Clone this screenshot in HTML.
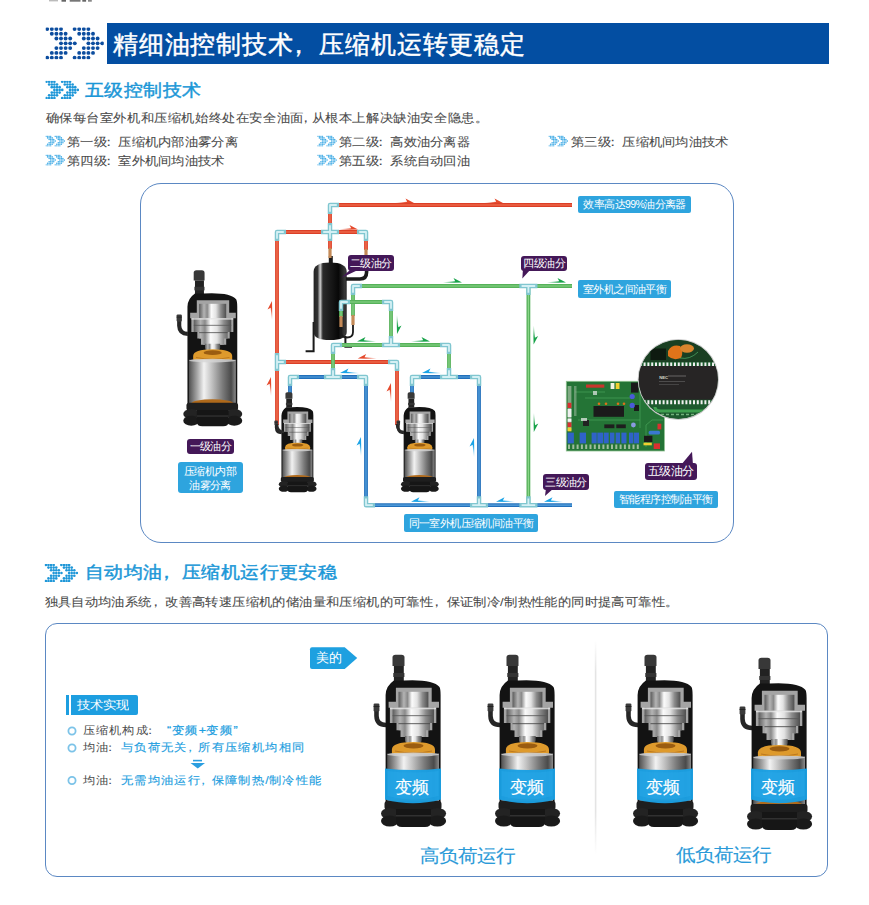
<!DOCTYPE html>
<html><head><meta charset="utf-8">
<style>
html,body{margin:0;padding:0;background:#fff;}
body{width:869px;height:905px;position:relative;overflow:hidden;font-family:"Liberation Sans",sans-serif;}
.a{position:absolute;white-space:nowrap;}
.t{color:#4a4a4a;font-size:13px;line-height:13px;-webkit-text-stroke:.08px #4a4a4a;letter-spacing:.3px;}
.hd{color:#1b97d7;font-size:19px;line-height:19px;transform:scaleY(.84);-webkit-text-stroke:.5px #1b97d7;}
.sy{transform:scaleY(.9);transform-origin:0 0;}
.lbl{position:absolute;background:#2ea4de;color:#fff;border-radius:2px;font-size:10.5px;line-height:18px;text-align:center;white-space:nowrap;letter-spacing:-0.6px;}
.pl{position:absolute;background:#441858;color:#fff;border-radius:3px;font-size:10.5px;line-height:16px;text-align:center;white-space:nowrap;letter-spacing:-0.6px;}
svg{position:absolute;left:0;top:0;overflow:visible;}
</style></head>
<body>
<!-- defs -->
<svg width="0" height="0" style="position:absolute">
<defs>
<symbol id="arr" viewBox="0 0 58.2 31.9"><circle cx="1.6" cy="1.60" r="1.95"/><circle cx="6.2" cy="1.60" r="1.95"/><circle cx="10.8" cy="1.60" r="1.95"/><circle cx="15.4" cy="1.60" r="1.95"/><circle cx="6.2" cy="6.38" r="1.95"/><circle cx="10.8" cy="6.38" r="1.95"/><circle cx="15.4" cy="6.38" r="1.95"/><circle cx="20.0" cy="6.38" r="1.95"/><circle cx="10.8" cy="11.16" r="1.95"/><circle cx="15.4" cy="11.16" r="1.95"/><circle cx="20.0" cy="11.16" r="1.95"/><circle cx="24.6" cy="11.16" r="1.95"/><circle cx="15.4" cy="15.94" r="1.95"/><circle cx="20.0" cy="15.94" r="1.95"/><circle cx="24.6" cy="15.94" r="1.95"/><circle cx="29.2" cy="15.94" r="1.95"/><circle cx="10.8" cy="20.72" r="1.95"/><circle cx="15.4" cy="20.72" r="1.95"/><circle cx="20.0" cy="20.72" r="1.95"/><circle cx="24.6" cy="20.72" r="1.95"/><circle cx="6.2" cy="25.50" r="1.95"/><circle cx="10.8" cy="25.50" r="1.95"/><circle cx="15.4" cy="25.50" r="1.95"/><circle cx="20.0" cy="25.50" r="1.95"/><circle cx="1.6" cy="30.28" r="1.95"/><circle cx="6.2" cy="30.28" r="1.95"/><circle cx="10.8" cy="30.28" r="1.95"/><circle cx="15.4" cy="30.28" r="1.95"/><circle cx="29.0" cy="1.60" r="1.95"/><circle cx="33.6" cy="1.60" r="1.95"/><circle cx="38.2" cy="1.60" r="1.95"/><circle cx="42.8" cy="1.60" r="1.95"/><circle cx="33.6" cy="6.38" r="1.95"/><circle cx="38.2" cy="6.38" r="1.95"/><circle cx="42.8" cy="6.38" r="1.95"/><circle cx="47.4" cy="6.38" r="1.95"/><circle cx="38.2" cy="11.16" r="1.95"/><circle cx="42.8" cy="11.16" r="1.95"/><circle cx="47.4" cy="11.16" r="1.95"/><circle cx="52.0" cy="11.16" r="1.95"/><circle cx="42.8" cy="15.94" r="1.95"/><circle cx="47.4" cy="15.94" r="1.95"/><circle cx="52.0" cy="15.94" r="1.95"/><circle cx="56.6" cy="15.94" r="1.95"/><circle cx="38.2" cy="20.72" r="1.95"/><circle cx="42.8" cy="20.72" r="1.95"/><circle cx="47.4" cy="20.72" r="1.95"/><circle cx="52.0" cy="20.72" r="1.95"/><circle cx="33.6" cy="25.50" r="1.95"/><circle cx="38.2" cy="25.50" r="1.95"/><circle cx="42.8" cy="25.50" r="1.95"/><circle cx="47.4" cy="25.50" r="1.95"/><circle cx="29.0" cy="30.28" r="1.95"/><circle cx="33.6" cy="30.28" r="1.95"/><circle cx="38.2" cy="30.28" r="1.95"/><circle cx="42.8" cy="30.28" r="1.95"/></symbol>
<symbol id="arrs" viewBox="0 0 58.2 31.9"><circle cx="1.6" cy="1.60" r="2.3"/><circle cx="6.2" cy="1.60" r="2.3"/><circle cx="10.8" cy="1.60" r="2.3"/><circle cx="15.4" cy="1.60" r="2.3"/><circle cx="6.2" cy="6.38" r="2.3"/><circle cx="10.8" cy="6.38" r="2.3"/><circle cx="15.4" cy="6.38" r="2.3"/><circle cx="20.0" cy="6.38" r="2.3"/><circle cx="10.8" cy="11.16" r="2.3"/><circle cx="15.4" cy="11.16" r="2.3"/><circle cx="20.0" cy="11.16" r="2.3"/><circle cx="24.6" cy="11.16" r="2.3"/><circle cx="15.4" cy="15.94" r="2.3"/><circle cx="20.0" cy="15.94" r="2.3"/><circle cx="24.6" cy="15.94" r="2.3"/><circle cx="29.2" cy="15.94" r="2.3"/><circle cx="10.8" cy="20.72" r="2.3"/><circle cx="15.4" cy="20.72" r="2.3"/><circle cx="20.0" cy="20.72" r="2.3"/><circle cx="24.6" cy="20.72" r="2.3"/><circle cx="6.2" cy="25.50" r="2.3"/><circle cx="10.8" cy="25.50" r="2.3"/><circle cx="15.4" cy="25.50" r="2.3"/><circle cx="20.0" cy="25.50" r="2.3"/><circle cx="1.6" cy="30.28" r="2.3"/><circle cx="6.2" cy="30.28" r="2.3"/><circle cx="10.8" cy="30.28" r="2.3"/><circle cx="15.4" cy="30.28" r="2.3"/><circle cx="29.0" cy="1.60" r="2.3"/><circle cx="33.6" cy="1.60" r="2.3"/><circle cx="38.2" cy="1.60" r="2.3"/><circle cx="42.8" cy="1.60" r="2.3"/><circle cx="33.6" cy="6.38" r="2.3"/><circle cx="38.2" cy="6.38" r="2.3"/><circle cx="42.8" cy="6.38" r="2.3"/><circle cx="47.4" cy="6.38" r="2.3"/><circle cx="38.2" cy="11.16" r="2.3"/><circle cx="42.8" cy="11.16" r="2.3"/><circle cx="47.4" cy="11.16" r="2.3"/><circle cx="52.0" cy="11.16" r="2.3"/><circle cx="42.8" cy="15.94" r="2.3"/><circle cx="47.4" cy="15.94" r="2.3"/><circle cx="52.0" cy="15.94" r="2.3"/><circle cx="56.6" cy="15.94" r="2.3"/><circle cx="38.2" cy="20.72" r="2.3"/><circle cx="42.8" cy="20.72" r="2.3"/><circle cx="47.4" cy="20.72" r="2.3"/><circle cx="52.0" cy="20.72" r="2.3"/><circle cx="33.6" cy="25.50" r="2.3"/><circle cx="38.2" cy="25.50" r="2.3"/><circle cx="42.8" cy="25.50" r="2.3"/><circle cx="47.4" cy="25.50" r="2.3"/><circle cx="29.0" cy="30.28" r="2.3"/><circle cx="33.6" cy="30.28" r="2.3"/><circle cx="38.2" cy="30.28" r="2.3"/><circle cx="42.8" cy="30.28" r="2.3"/></symbol>

<linearGradient id="gr" x1="0" x2="1" y1="0" y2="0"><stop offset="0" stop-color="#e5492c" stop-opacity="0"/><stop offset=".6" stop-color="#e5492c"/></linearGradient>
<linearGradient id="gg" x1="0" x2="1" y1="0" y2="0"><stop offset="0" stop-color="#19a34a" stop-opacity="0"/><stop offset=".6" stop-color="#19a34a"/></linearGradient>
<linearGradient id="gb" x1="0" x2="1" y1="0" y2="0"><stop offset="0" stop-color="#1aa3e6" stop-opacity="0"/><stop offset=".6" stop-color="#1aa3e6"/></linearGradient>
<linearGradient id="silv" x1="0" x2="1" y1="0" y2="0"><stop offset="0" stop-color="#5c5c5c"/><stop offset=".18" stop-color="#b4b4b4"/><stop offset=".3" stop-color="#8a8a8a"/><stop offset=".45" stop-color="#fbfbfb"/><stop offset=".62" stop-color="#e2e2e2"/><stop offset=".8" stop-color="#8c8c8c"/><stop offset="1" stop-color="#4e4e4e"/></linearGradient>
<linearGradient id="tankg" x1="0" x2="1" y1="0" y2="0"><stop offset="0" stop-color="#222"/><stop offset=".12" stop-color="#333"/><stop offset=".2" stop-color="#cfcfcf"/><stop offset=".28" stop-color="#2a2a2a"/><stop offset=".75" stop-color="#080808"/><stop offset=".95" stop-color="#3a3a3a"/><stop offset="1" stop-color="#222"/></linearGradient>
<linearGradient id="silv2" x1="0" x2="1" y1="0" y2="0"><stop offset="0" stop-color="#505050"/><stop offset=".18" stop-color="#a8a8a8"/><stop offset=".32" stop-color="#f2f2f2"/><stop offset=".48" stop-color="#c4c4c4"/><stop offset=".72" stop-color="#7a7a7a"/><stop offset=".9" stop-color="#4a4a4a"/><stop offset="1" stop-color="#8a8a8a"/></linearGradient>
<symbol id="band" viewBox="0 0 90 190"><path d="M20 123.5 Q48 126.5 76 123.5 V154.5 Q48 162 20 154.5Z" fill="#1a9fe2" opacity=".97"/><path d="M22.5 126 Q48 129 73.5 126 V151 Q48 158 22.5 151Z" fill="#2aa8e8" opacity=".45"/></symbol>
<symbol id="comp" viewBox="0 0 90 190">
<path d="M21 80 Q11.8 80 11.5 71 V63" stroke="#262626" stroke-width="4.6" fill="none"/>
<rect x="8.6" y="58.5" width="5.8" height="8" rx="1.2" fill="#3a3a3a"/><rect x="8.6" y="61" width="5.8" height="1" fill="#222"/>
<path d="M27.5 12.5 Q27.5 9.7 30.5 9.7 H36.5 Q39.5 9.7 39.5 12.5 V21 H27.5Z" fill="#383838"/>
<rect x="28.9" y="21" width="9.9" height="15" fill="#222"/>
<rect x="28.3" y="28" width="11.1" height="4" fill="#333"/>
<path d="M20.6 50 Q20.8 41 28.9 35.5 H38.8 Q68 34 74.5 42 Q75.6 44 75.6 50 V160 H20.6Z" fill="#131313"/>
<path d="M30.9 42.8 H66.7 V56.7 H74 V62.7 H71.3 V78 H67.3 V85.2 H63.4 V92 H35.5 V85.2 H31.5 V78 H24.9 V62.7 H23.6 V56.7 H30.9Z" fill="#a4a4a4"/>
<rect x="33.5" y="46.8" width="29.9" height="16" fill="url(#silv)"/>
<path d="M27.5 62.7 H69 V78 H65 V85.2 H61 V92 H37.5 V85.2 H33.5 V78 H27.5Z" fill="url(#silv)"/>
<rect x="25" y="62.7" width="46" height="1.6" fill="#e8e8e8" opacity=".8"/>
<rect x="27.5" y="70" width="41.5" height="1.2" fill="#555" opacity=".7"/>
<rect x="33.5" y="78" width="31.5" height="1.2" fill="#444" opacity=".7"/>
<path d="M40 91 H56.7 V95 Q56.7 100.5 48.3 100.5 Q40 100.5 40 95Z" fill="url(#silv)"/>
<path d="M26.9 104.5 Q26.9 97 48.5 97 Q70 97 70 104.5 V108 Q70 112 48.5 112 Q26.9 112 26.9 108Z" fill="#de9a2c"/>
<path d="M30 106 Q48.5 110 67 106" stroke="#a86414" stroke-width=".8" fill="none" opacity=".8"/>
<ellipse cx="48.5" cy="100.8" rx="10" ry="2.6" fill="#9a5c10"/>
<rect x="22.2" y="108.5" width="51.8" height="48" fill="url(#silv2)"/>
<ellipse cx="48.1" cy="109.5" rx="25.9" ry="2" fill="#d6d6d6" opacity=".8"/>
<ellipse cx="48.1" cy="156.5" rx="23" ry="4.2" fill="#b06a1b"/>
<rect x="19.5" y="156" width="57" height="9" rx="3" fill="#1e1e1e"/>
<ellipse cx="24.8" cy="168.5" rx="8.8" ry="5.5" fill="#232323"/><ellipse cx="24.8" cy="176" rx="8.8" ry="5.5" fill="#1a1a1a"/>
<ellipse cx="72.3" cy="168.5" rx="8.8" ry="5.5" fill="#232323"/><ellipse cx="72.3" cy="176" rx="8.8" ry="5.5" fill="#1a1a1a"/>
<path d="M31 164 H66 V177 Q66 182 60 182 H37 Q31 182 31 177Z" fill="#161616"/>
<rect x="31" y="170" width="35" height="1.5" fill="#444" opacity=".6"/>
</symbol>
</defs>
</svg>

<!-- top cut text -->
<svg width="869" height="905"><rect x="49" y="0" width="9" height="1.4" fill="#bbb"/><rect x="61.5" y="0" width="4.5" height="1.7" fill="#666"/><rect x="69.7" y="0" width="10.8" height="1.7" fill="#777"/><rect x="82.3" y="0" width="3.8" height="1.7" fill="#666"/><rect x="88" y="0" width="3.8" height="1.7" fill="#888"/></svg>

<!-- header -->
<svg width="869" height="905" style="pointer-events:none">
<use href="#arr" x="45.6" y="27.4" width="58.2" height="31.9" fill="#0c4d9f"/>
<use href="#arrs" x="45.4" y="80.8" width="33.6" height="18.2" fill="#1f97d8"/>
</svg>
<div class="a" style="left:107px;top:23px;width:722px;height:41px;background:#034ea2;"></div>
<div class="a" style="left:113px;top:32px;color:#fff;font-size:25px;line-height:25px;letter-spacing:.8px;-webkit-text-stroke:.45px #fff;">精细油控制技术<span style="margin-left:-8px;margin-right:8px">，</span>压缩机运转更稳定</div>

<div class="a sy hd" style="left:85px;top:82px;letter-spacing:.4px;">五级控制技术</div>
<div class="a t sy" style="left:45.5px;top:112.2px;letter-spacing:.6px;">确保每台室外机和压缩机始终处在安全油面<span style="margin-left:-5px;margin-right:-1px">，</span>从根本上解决缺油安全隐患。</div>
<div class="a t sy" style="left:67px;top:135.5px;">第一级<span style="margin-left:-5px;margin-right:3px">：</span>压缩机内部油雾分离</div>
<div class="a t sy" style="left:67px;top:154.5px;">第四级<span style="margin-left:-5px;margin-right:3px">：</span>室外机间均油技术</div>
<div class="a t sy" style="left:339px;top:135.5px;">第二级<span style="margin-left:-5px;margin-right:3px">：</span>高效油分离器</div>
<div class="a t sy" style="left:339px;top:154.5px;">第五级<span style="margin-left:-5px;margin-right:3px">：</span>系统自动回油</div>
<div class="a t sy" style="left:571px;top:135.5px;">第三级<span style="margin-left:-5px;margin-right:3px">：</span>压缩机间均油技术</div>
<svg width="869" height="905">
<use href="#arrs" x="45.5" y="135.6" width="19.5" height="11" fill="#45ade6"/>
<use href="#arrs" x="45.5" y="154.6" width="19.5" height="11" fill="#45ade6"/>
<use href="#arrs" x="317.3" y="135.6" width="19.5" height="11" fill="#45ade6"/>
<use href="#arrs" x="317.3" y="154.6" width="19.5" height="11" fill="#45ade6"/>
<use href="#arrs" x="548.5" y="135.6" width="19.5" height="11" fill="#45ade6"/>
<use href="#arrs" x="44.5" y="564" width="33.8" height="18" fill="#1f97d8"/>
</svg>

<!-- bottom heading -->
<div class="a sy hd" style="left:85px;top:564px;letter-spacing:.4px;">自动均油<span style="margin-left:-6px;margin-right:6px">，</span>压缩机运行更安稳</div>
<div class="a t sy" style="left:44.5px;top:595.5px;letter-spacing:.4px;">独具自动均油系统<span style="margin-left:-3px;margin-right:3px">，</span>改善高转速压缩机的储油量和压缩机的可靠性<span style="margin-left:-3px;margin-right:3px">，</span>保证制冷/制热性能的同时提高可靠性。</div>

<!-- diagram box -->
<div class="a" style="left:140.3px;top:182.8px;width:591.9px;height:357.9px;border:1.8px solid #5b88c3;border-radius:21px;"></div>


<!-- diagram content -->
<svg width="869" height="905">
<!-- tank -->
<path d="M313.6 322 V351.3 H305.6" stroke="#1a1a1a" stroke-width="2" fill="none"/>
<path d="M345.4 336 V346.7 H352" stroke="#1a1a1a" stroke-width="2" fill="none"/>
<rect x="328.8" y="256" width="4" height="8" fill="#1a1a1a"/>
<path d="M313.6 272 Q313.6 262.5 330 262.5 Q346.7 262.5 346.7 272 V332 Q346.7 340 330 340 Q313.6 340 313.6 332Z" fill="url(#tankg)"/>
<path d="M346 279 H360 Q366.6 279 366.6 272 V256" stroke="#1a1a1a" stroke-width="3.6" fill="none"/>
<path d="M341 326 V332 Q341 337.5 347 337.5 Q353 337.5 353 332 V324" stroke="#1a1a1a" stroke-width="1.8" fill="none"/>
<line x1="330" y1="205" x2="572" y2="205" stroke="#dc3f27" stroke-width="3.8"/>
<line x1="330" y1="205" x2="572" y2="205" stroke="#f47a58" stroke-width="1.2"/>
<line x1="330" y1="205" x2="330" y2="249" stroke="#dc3f27" stroke-width="3.8"/>
<line x1="330" y1="205" x2="330" y2="249" stroke="#f47a58" stroke-width="1.2"/>
<line x1="277" y1="232" x2="366" y2="232" stroke="#dc3f27" stroke-width="3.8"/>
<line x1="277" y1="232" x2="366" y2="232" stroke="#f47a58" stroke-width="1.2"/>
<line x1="366" y1="232" x2="366" y2="250" stroke="#dc3f27" stroke-width="3.8"/>
<line x1="366" y1="232" x2="366" y2="250" stroke="#f47a58" stroke-width="1.2"/>
<line x1="277" y1="232" x2="277" y2="425" stroke="#dc3f27" stroke-width="3.8"/>
<line x1="277" y1="232" x2="277" y2="425" stroke="#f47a58" stroke-width="1.2"/>
<line x1="277" y1="362" x2="397" y2="362" stroke="#dc3f27" stroke-width="3.8"/>
<line x1="277" y1="362" x2="397" y2="362" stroke="#f47a58" stroke-width="1.2"/>
<line x1="397" y1="362" x2="397" y2="425" stroke="#dc3f27" stroke-width="3.8"/>
<line x1="397" y1="362" x2="397" y2="425" stroke="#f47a58" stroke-width="1.2"/>
<line x1="353" y1="286" x2="572" y2="286" stroke="#56b25a" stroke-width="3.8"/>
<line x1="353" y1="286" x2="572" y2="286" stroke="#8ad488" stroke-width="1.2"/>
<line x1="353" y1="286" x2="353" y2="316" stroke="#56b25a" stroke-width="3.8"/>
<line x1="353" y1="286" x2="353" y2="316" stroke="#8ad488" stroke-width="1.2"/>
<line x1="341" y1="302" x2="391" y2="302" stroke="#56b25a" stroke-width="3.8"/>
<line x1="341" y1="302" x2="391" y2="302" stroke="#8ad488" stroke-width="1.2"/>
<line x1="341" y1="302" x2="341" y2="317" stroke="#56b25a" stroke-width="3.8"/>
<line x1="341" y1="302" x2="341" y2="317" stroke="#8ad488" stroke-width="1.2"/>
<line x1="391" y1="302" x2="391" y2="345" stroke="#56b25a" stroke-width="3.8"/>
<line x1="391" y1="302" x2="391" y2="345" stroke="#8ad488" stroke-width="1.2"/>
<line x1="333" y1="345" x2="449" y2="345" stroke="#56b25a" stroke-width="3.8"/>
<line x1="333" y1="345" x2="449" y2="345" stroke="#8ad488" stroke-width="1.2"/>
<line x1="333" y1="345" x2="333" y2="377" stroke="#56b25a" stroke-width="3.8"/>
<line x1="333" y1="345" x2="333" y2="377" stroke="#8ad488" stroke-width="1.2"/>
<line x1="449" y1="345" x2="449" y2="377" stroke="#56b25a" stroke-width="3.8"/>
<line x1="449" y1="345" x2="449" y2="377" stroke="#8ad488" stroke-width="1.2"/>
<line x1="528.4" y1="286" x2="528.4" y2="505.2" stroke="#56b25a" stroke-width="3.8"/>
<line x1="528.4" y1="286" x2="528.4" y2="505.2" stroke="#8ad488" stroke-width="1.2"/>
<line x1="290" y1="377" x2="366" y2="377" stroke="#2270bb" stroke-width="3.8"/>
<line x1="290" y1="377" x2="366" y2="377" stroke="#5aa4e0" stroke-width="1.2"/>
<line x1="290" y1="377" x2="290" y2="393" stroke="#2270bb" stroke-width="3.8"/>
<line x1="290" y1="377" x2="290" y2="393" stroke="#5aa4e0" stroke-width="1.2"/>
<line x1="366" y1="377" x2="366" y2="505.2" stroke="#2270bb" stroke-width="3.8"/>
<line x1="366" y1="377" x2="366" y2="505.2" stroke="#5aa4e0" stroke-width="1.2"/>
<line x1="366" y1="505.2" x2="572" y2="505.2" stroke="#2270bb" stroke-width="3.8"/>
<line x1="366" y1="505.2" x2="572" y2="505.2" stroke="#5aa4e0" stroke-width="1.2"/>
<line x1="412" y1="377" x2="479" y2="377" stroke="#2270bb" stroke-width="3.8"/>
<line x1="412" y1="377" x2="479" y2="377" stroke="#5aa4e0" stroke-width="1.2"/>
<line x1="412" y1="377" x2="412" y2="393" stroke="#2270bb" stroke-width="3.8"/>
<line x1="412" y1="377" x2="412" y2="393" stroke="#5aa4e0" stroke-width="1.2"/>
<line x1="479" y1="377" x2="479" y2="505.2" stroke="#2270bb" stroke-width="3.8"/>
<line x1="479" y1="377" x2="479" y2="505.2" stroke="#5aa4e0" stroke-width="1.2"/>
<line x1="330" y1="248" x2="330" y2="258" stroke="#c48a58" stroke-width="3.2"/>
<line x1="366" y1="249" x2="366" y2="255" stroke="#c48a58" stroke-width="3.2"/>
<line x1="353" y1="315" x2="353" y2="325" stroke="#c48a58" stroke-width="3.2"/>
<line x1="341" y1="316" x2="341" y2="327" stroke="#c48a58" stroke-width="3.2"/>
<path d="M336.8 205.0L330 205L330.0 211.8" stroke="#80c6d0" stroke-width="4.5" stroke-linejoin="round" stroke-linecap="square" fill="none"/>
<path d="M336.8 205.0L330 205L330.0 211.8" stroke="#d4f0f4" stroke-width="1.8" stroke-linejoin="round" fill="none"/>
<path d="M330 232L323.2 232.0M330 232L336.8 232.0M330 232L330.0 225.2M330 232L330.0 238.8" stroke="#80c6d0" stroke-width="4.5" stroke-linejoin="round" stroke-linecap="square" fill="none"/>
<path d="M330 232L323.2 232.0M330 232L336.8 232.0M330 232L330.0 225.2M330 232L330.0 238.8" stroke="#d4f0f4" stroke-width="1.8" stroke-linejoin="round" fill="none"/>
<path d="M283.8 232.0L277 232L277.0 238.8" stroke="#80c6d0" stroke-width="4.5" stroke-linejoin="round" stroke-linecap="square" fill="none"/>
<path d="M283.8 232.0L277 232L277.0 238.8" stroke="#d4f0f4" stroke-width="1.8" stroke-linejoin="round" fill="none"/>
<path d="M359.2 232.0L366 232L366.0 238.8" stroke="#80c6d0" stroke-width="4.5" stroke-linejoin="round" stroke-linecap="square" fill="none"/>
<path d="M359.2 232.0L366 232L366.0 238.8" stroke="#d4f0f4" stroke-width="1.8" stroke-linejoin="round" fill="none"/>
<path d="M277 362L277.0 355.2M277 362L277.0 368.8M277 362L283.8 362.0" stroke="#80c6d0" stroke-width="4.5" stroke-linejoin="round" stroke-linecap="square" fill="none"/>
<path d="M277 362L277.0 355.2M277 362L277.0 368.8M277 362L283.8 362.0" stroke="#d4f0f4" stroke-width="1.8" stroke-linejoin="round" fill="none"/>
<path d="M390.2 362.0L397 362L397.0 368.8" stroke="#80c6d0" stroke-width="4.5" stroke-linejoin="round" stroke-linecap="square" fill="none"/>
<path d="M390.2 362.0L397 362L397.0 368.8" stroke="#d4f0f4" stroke-width="1.8" stroke-linejoin="round" fill="none"/>
<path d="M359.8 286.0L353 286L353.0 292.8" stroke="#80c6d0" stroke-width="4.5" stroke-linejoin="round" stroke-linecap="square" fill="none"/>
<path d="M359.8 286.0L353 286L353.0 292.8" stroke="#d4f0f4" stroke-width="1.8" stroke-linejoin="round" fill="none"/>
<path d="M347.8 302.0L341 302L341.0 308.8" stroke="#80c6d0" stroke-width="4.5" stroke-linejoin="round" stroke-linecap="square" fill="none"/>
<path d="M347.8 302.0L341 302L341.0 308.8" stroke="#d4f0f4" stroke-width="1.8" stroke-linejoin="round" fill="none"/>
<path d="M384.2 302.0L391 302L391.0 308.8" stroke="#80c6d0" stroke-width="4.5" stroke-linejoin="round" stroke-linecap="square" fill="none"/>
<path d="M384.2 302.0L391 302L391.0 308.8" stroke="#d4f0f4" stroke-width="1.8" stroke-linejoin="round" fill="none"/>
<path d="M391 345L391.0 338.2M391 345L384.2 345.0M391 345L397.8 345.0" stroke="#80c6d0" stroke-width="4.5" stroke-linejoin="round" stroke-linecap="square" fill="none"/>
<path d="M391 345L391.0 338.2M391 345L384.2 345.0M391 345L397.8 345.0" stroke="#d4f0f4" stroke-width="1.8" stroke-linejoin="round" fill="none"/>
<path d="M339.8 345.0L333 345L333.0 351.8" stroke="#80c6d0" stroke-width="4.5" stroke-linejoin="round" stroke-linecap="square" fill="none"/>
<path d="M339.8 345.0L333 345L333.0 351.8" stroke="#d4f0f4" stroke-width="1.8" stroke-linejoin="round" fill="none"/>
<path d="M442.2 345.0L449 345L449.0 351.8" stroke="#80c6d0" stroke-width="4.5" stroke-linejoin="round" stroke-linecap="square" fill="none"/>
<path d="M442.2 345.0L449 345L449.0 351.8" stroke="#d4f0f4" stroke-width="1.8" stroke-linejoin="round" fill="none"/>
<path d="M333 377L333.0 370.2M333 377L326.2 377.0M333 377L339.8 377.0" stroke="#80c6d0" stroke-width="4.5" stroke-linejoin="round" stroke-linecap="square" fill="none"/>
<path d="M333 377L333.0 370.2M333 377L326.2 377.0M333 377L339.8 377.0" stroke="#d4f0f4" stroke-width="1.8" stroke-linejoin="round" fill="none"/>
<path d="M449 377L449.0 370.2M449 377L442.2 377.0M449 377L455.8 377.0" stroke="#80c6d0" stroke-width="4.5" stroke-linejoin="round" stroke-linecap="square" fill="none"/>
<path d="M449 377L449.0 370.2M449 377L442.2 377.0M449 377L455.8 377.0" stroke="#d4f0f4" stroke-width="1.8" stroke-linejoin="round" fill="none"/>
<path d="M528.4 286L521.6 286.0M528.4 286L535.1999999999999 286.0M528.4 286L528.4 292.8" stroke="#80c6d0" stroke-width="4.5" stroke-linejoin="round" stroke-linecap="square" fill="none"/>
<path d="M528.4 286L521.6 286.0M528.4 286L535.1999999999999 286.0M528.4 286L528.4 292.8" stroke="#d4f0f4" stroke-width="1.8" stroke-linejoin="round" fill="none"/>
<path d="M296.8 377.0L290 377L290.0 383.8" stroke="#80c6d0" stroke-width="4.5" stroke-linejoin="round" stroke-linecap="square" fill="none"/>
<path d="M296.8 377.0L290 377L290.0 383.8" stroke="#d4f0f4" stroke-width="1.8" stroke-linejoin="round" fill="none"/>
<path d="M359.2 377.0L366 377L366.0 383.8" stroke="#80c6d0" stroke-width="4.5" stroke-linejoin="round" stroke-linecap="square" fill="none"/>
<path d="M359.2 377.0L366 377L366.0 383.8" stroke="#d4f0f4" stroke-width="1.8" stroke-linejoin="round" fill="none"/>
<path d="M418.8 377.0L412 377L412.0 383.8" stroke="#80c6d0" stroke-width="4.5" stroke-linejoin="round" stroke-linecap="square" fill="none"/>
<path d="M418.8 377.0L412 377L412.0 383.8" stroke="#d4f0f4" stroke-width="1.8" stroke-linejoin="round" fill="none"/>
<path d="M472.2 377.0L479 377L479.0 383.8" stroke="#80c6d0" stroke-width="4.5" stroke-linejoin="round" stroke-linecap="square" fill="none"/>
<path d="M472.2 377.0L479 377L479.0 383.8" stroke="#d4f0f4" stroke-width="1.8" stroke-linejoin="round" fill="none"/>
<path d="M366.0 498.4L366 505.2L372.8 505.2" stroke="#80c6d0" stroke-width="4.5" stroke-linejoin="round" stroke-linecap="square" fill="none"/>
<path d="M366.0 498.4L366 505.2L372.8 505.2" stroke="#d4f0f4" stroke-width="1.8" stroke-linejoin="round" fill="none"/>
<path d="M479 505.2L479.0 498.4M479 505.2L472.2 505.2M479 505.2L485.8 505.2" stroke="#80c6d0" stroke-width="4.5" stroke-linejoin="round" stroke-linecap="square" fill="none"/>
<path d="M479 505.2L479.0 498.4M479 505.2L472.2 505.2M479 505.2L485.8 505.2" stroke="#d4f0f4" stroke-width="1.8" stroke-linejoin="round" fill="none"/>
<path d="M528.4 505.2L528.4 498.4M528.4 505.2L521.6 505.2M528.4 505.2L535.1999999999999 505.2" stroke="#80c6d0" stroke-width="4.5" stroke-linejoin="round" stroke-linecap="square" fill="none"/>
<path d="M528.4 505.2L528.4 498.4M528.4 505.2L521.6 505.2M528.4 505.2L535.1999999999999 505.2" stroke="#d4f0f4" stroke-width="1.8" stroke-linejoin="round" fill="none"/>
<path transform="translate(414 203)" d="M0 0 L-8.5 -4.5 L-6.8 -1.3 L-19 -0.3 L-19 0.4Z" fill="url(#gr)"/>
<path transform="translate(503 203)" d="M0 0 L-8.5 -4.5 L-6.8 -1.3 L-19 -0.3 L-19 0.4Z" fill="url(#gr)"/>
<path transform="translate(358 229.5)" d="M0 0 L-8.5 -4.5 L-6.8 -1.3 L-19 -0.3 L-19 0.4Z" fill="url(#gr)"/>
<path transform="translate(357.7 358.5) scale(-1 1)" d="M0 0 L-8.5 -4.5 L-6.8 -1.3 L-19 -0.3 L-19 0.4Z" fill="url(#gr)"/>
<path transform="translate(272 301) rotate(-90)" d="M0 0 L-8.5 -4.5 L-6.8 -1.3 L-19 -0.3 L-19 0.4Z" fill="url(#gr)"/>
<path transform="translate(271 377) rotate(-90)" d="M0 0 L-8.5 -4.5 L-6.8 -1.3 L-19 -0.3 L-19 0.4Z" fill="url(#gr)"/>
<path transform="translate(391 383) rotate(-90)" d="M0 0 L-8.5 -4.5 L-6.8 -1.3 L-19 -0.3 L-19 0.4Z" fill="url(#gr)"/>
<path transform="translate(462 282.6)" d="M0 0 L-8.5 -4.5 L-6.8 -1.3 L-19 -0.3 L-19 0.4Z" fill="url(#gg)"/>
<path transform="translate(566 282.6)" d="M0 0 L-8.5 -4.5 L-6.8 -1.3 L-19 -0.3 L-19 0.4Z" fill="url(#gg)"/>
<path transform="translate(430 341.5)" d="M0 0 L-8.5 -4.5 L-6.8 -1.3 L-19 -0.3 L-19 0.4Z" fill="url(#gg)"/>
<path transform="translate(357 341.5) scale(-1 1)" d="M0 0 L-8.5 -4.5 L-6.8 -1.3 L-19 -0.3 L-19 0.4Z" fill="url(#gg)"/>
<path transform="translate(397 334) rotate(90)" d="M0 0 L-8.5 -4.5 L-6.8 -1.3 L-19 -0.3 L-19 0.4Z" fill="url(#gg)"/>
<path transform="translate(533.6 344.6) rotate(90)" d="M0 0 L-8.5 -4.5 L-6.8 -1.3 L-19 -0.3 L-19 0.4Z" fill="url(#gg)"/>
<path transform="translate(533.8 432) rotate(90)" d="M0 0 L-8.5 -4.5 L-6.8 -1.3 L-19 -0.3 L-19 0.4Z" fill="url(#gg)"/>
<path transform="translate(340 373) scale(-1 1)" d="M0 0 L-8.5 -4.5 L-6.8 -1.3 L-19 -0.3 L-19 0.4Z" fill="url(#gb)"/>
<path transform="translate(422 373) scale(-1 1)" d="M0 0 L-8.5 -4.5 L-6.8 -1.3 L-19 -0.3 L-19 0.4Z" fill="url(#gb)"/>
<path transform="translate(411 501.8) scale(-1 1)" d="M0 0 L-8.5 -4.5 L-6.8 -1.3 L-19 -0.3 L-19 0.4Z" fill="url(#gb)"/>
<path transform="translate(496 501.8) scale(-1 1)" d="M0 0 L-8.5 -4.5 L-6.8 -1.3 L-19 -0.3 L-19 0.4Z" fill="url(#gb)"/>
<path transform="translate(544 501.8) scale(-1 1)" d="M0 0 L-8.5 -4.5 L-6.8 -1.3 L-19 -0.3 L-19 0.4Z" fill="url(#gb)"/>
<path transform="translate(361 437) rotate(-90)" d="M0 0 L-8.5 -4.5 L-6.8 -1.3 L-19 -0.3 L-19 0.4Z" fill="url(#gb)"/>
<path transform="translate(474 438) rotate(-90)" d="M0 0 L-8.5 -4.5 L-6.8 -1.3 L-19 -0.3 L-19 0.4Z" fill="url(#gb)"/>
<!-- compressors -->
<use href="#comp" x="168.8" y="261.4" width="81.5" height="172.1"/>
<use href="#comp" x="269.5" y="386.6" width="52.2" height="110.2"/>
<use href="#comp" x="391.7" y="386.6" width="52.2" height="110.2"/>
<path d="M277 424 Q277 432 284 432" stroke="#2a2a2a" stroke-width="2.6" fill="none"/>
<path d="M397 424 Q397 432 404 432" stroke="#2a2a2a" stroke-width="2.6" fill="none"/>
<!-- pcb -->
<rect x="566.3" y="381.3" width="98.1" height="69.7" fill="#247436"/>
<rect x="566.3" y="381.3" width="98.1" height="69.7" fill="none" stroke="#8fc090" stroke-width=".8"/>
<path d="M575 392 H605 M578 420 H640 M640 388 V428 M646 425 L652 420 H663 M646 425 V447 M585 398 H630" stroke="#49a35a" stroke-width=".7" fill="none"/>
<rect x="586" y="384.5" width="18.3" height="3.2" fill="#c8362c"/>
<rect x="610.6" y="383" width="3.8" height="6" fill="#f2f2e0"/>
<rect x="615.7" y="383" width="3.8" height="6" fill="#f0d030"/>
<rect x="567.6" y="386" width="3.8" height="44.7" fill="#98b898" opacity=".8"/>
<rect x="567.6" y="402.8" width="3.8" height="5.2" fill="#d83030"/>
<rect x="567.6" y="409" width="3.8" height="8" fill="#f0f0f0"/>
<rect x="567.6" y="418.7" width="3.8" height="3.1" fill="#f4f4f4"/>
<rect x="567.6" y="422.5" width="3.8" height="4.5" fill="#d83030"/>
<rect x="567.6" y="427.5" width="3.8" height="3.8" fill="#f0d030"/>
<rect x="574" y="386" width="2.5" height="30" fill="#a8c0a8" opacity=".5"/>
<rect x="593.5" y="406" width="30.5" height="10.8" fill="#1b1b1b"/>
<rect x="604.3" y="424.4" width="10.1" height="3.8" fill="#1e1e1e"/>
<rect x="616.3" y="424.4" width="9.5" height="3.8" fill="#1e1e1e"/>
<rect x="583" y="420" width="6" height="6" fill="#222"/>
<rect x="631" y="382.6" width="7.5" height="10" fill="#1a1a1a"/>
<rect x="634" y="405" width="5" height="6" fill="#1a1a1a"/>
<circle cx="632.2" cy="396.5" r="2.6" fill="#4a5ad8"/><circle cx="632.2" cy="405.4" r="2.6" fill="#4a5ad8"/><circle cx="633.4" cy="425" r="2.4" fill="#8a9ae0"/>
<circle cx="599" cy="403.7" r="1.3" fill="#e0701a"/><circle cx="606" cy="403.7" r="1.3" fill="#e0701a"/><circle cx="618" cy="403.7" r="1.3" fill="#e0701a"/><circle cx="624" cy="403.7" r="1.3" fill="#e0701a"/>
<rect x="593" y="391" width="4" height="4" fill="#e8e8e8" opacity=".7"/>
<rect x="581" y="418" width="6" height="3" fill="#f0f0f0" opacity=".7"/>
<rect x="567.6" y="432.6" width="6.3" height="10.8" fill="#2f63c8"/><rect x="579.6" y="432.6" width="6.4" height="10.8" fill="#2f63c8"/><rect x="591.6" y="432.6" width="5.1" height="10.8" fill="#2f63c8"/><rect x="597.3" y="432.6" width="5.7" height="10.8" fill="#2f63c8"/><rect x="603.7" y="432.6" width="5.0" height="10.8" fill="#2f63c8"/><rect x="610" y="432.6" width="4.4" height="10.8" fill="#2f63c8"/><rect x="615.7" y="432.6" width="4.3" height="10.8" fill="#2f63c8"/><rect x="621.4" y="432.6" width="5.1" height="10.8" fill="#2f63c8"/><rect x="629" y="432.6" width="4.4" height="10.8" fill="#2f63c8"/><rect x="634" y="432.6" width="5.0" height="10.8" fill="#2f63c8"/>
<rect x="568.0" y="444.5" width="2" height="4.5" fill="#c9d6c0" opacity=".75"/><rect x="572.3" y="444.5" width="2" height="4.5" fill="#c9d6c0" opacity=".75"/><rect x="576.6" y="444.5" width="2" height="4.5" fill="#c9d6c0" opacity=".75"/><rect x="580.9" y="444.5" width="2" height="4.5" fill="#c9d6c0" opacity=".75"/><rect x="585.2" y="444.5" width="2" height="4.5" fill="#c9d6c0" opacity=".75"/><rect x="589.5" y="444.5" width="2" height="4.5" fill="#c9d6c0" opacity=".75"/><rect x="593.8" y="444.5" width="2" height="4.5" fill="#c9d6c0" opacity=".75"/><rect x="598.1" y="444.5" width="2" height="4.5" fill="#c9d6c0" opacity=".75"/><rect x="602.4" y="444.5" width="2" height="4.5" fill="#c9d6c0" opacity=".75"/><rect x="606.7" y="444.5" width="2" height="4.5" fill="#c9d6c0" opacity=".75"/><rect x="611.0" y="444.5" width="2" height="4.5" fill="#c9d6c0" opacity=".75"/><rect x="615.3" y="444.5" width="2" height="4.5" fill="#c9d6c0" opacity=".75"/><rect x="619.6" y="444.5" width="2" height="4.5" fill="#c9d6c0" opacity=".75"/><rect x="623.9" y="444.5" width="2" height="4.5" fill="#c9d6c0" opacity=".75"/><rect x="628.2" y="444.5" width="2" height="4.5" fill="#c9d6c0" opacity=".75"/><rect x="632.5" y="444.5" width="2" height="4.5" fill="#c9d6c0" opacity=".75"/><rect x="636.8" y="444.5" width="2" height="4.5" fill="#c9d6c0" opacity=".75"/>
<rect x="657.5" y="423.7" width="3.8" height="5.7" fill="#d83030"/>
<rect x="648.6" y="430.7" width="11.4" height="3.8" rx="1.5" fill="#3a78d0"/>
<rect x="644" y="435.8" width="8.4" height="6.2" fill="#1a1a1a"/>
<rect x="643.5" y="442.7" width="8.3" height="2.6" fill="#f0d030"/>
<rect x="653.7" y="443.4" width="6.3" height="5.6" fill="#d83030"/>
<!-- magnifier -->
<circle cx="678.3" cy="379.5" r="40.6" fill="#c8c8c8"/>
<clipPath id="magc"><circle cx="678.3" cy="379.5" r="39.6"/></clipPath><g clip-path="url(#magc)"><circle cx="678.3" cy="379.5" r="39.6" fill="#1d5a2e"/>
<rect x="636" y="338" width="85" height="24" fill="#1a3f22"/>
<rect x="650.5" y="348.5" width="15.5" height="11.5" fill="#0e1a10"/>
<path d="M668 351 Q672 344 680 346 Q684 352 681 358 Q673 361 668 356Z" fill="#e0741a"/>
<ellipse cx="687" cy="348.5" rx="7" ry="4.2" fill="#d9852e"/>
<path d="M680 358 Q690 360 698 352" stroke="#4aa060" stroke-width=".8" fill="none"/>
<rect x="636" y="366" width="85" height="33.7" fill="#272525"/>
<path d="M636 364.2 H721" stroke="#f0f0f0" stroke-width="3.4" stroke-dasharray="2 1.8"/>
<path d="M636 402.3 H721" stroke="#f0f0f0" stroke-width="4" stroke-dasharray="2 1.8"/>
<path d="M655 407 Q655 411 661 411 H705" stroke="#3fa050" stroke-width="3" fill="none"/>
<path d="M651 414.5 H700" stroke="#8ac890" stroke-width="1.4" stroke-dasharray="3 2" opacity=".8"/>
<text x="659.3" y="378.5" font-size="4.2" fill="#d8d8c8" font-family="Liberation Sans" font-weight="bold">NEC</text>
<rect x="668" y="375.5" width="18" height="1" fill="#aaa" opacity=".5"/>
<rect x="659" y="381" width="26" height=".8" fill="#888" opacity=".5"/>
<rect x="659" y="384" width="20" height=".8" fill="#888" opacity=".4"/></g>
<!-- label pointers -->
<path d="M350 270 L341.4 277.8 L358 270Z" fill="#441858"/>
<path d="M523 269 L522.3 278.6 L531 269Z" fill="#441858"/>
<path d="M546 488 L545 496 L554 488Z" fill="#441858"/>
<path d="M681 465 L692 451.8 L693 465Z" fill="#441858"/>
</svg>
<div class="lbl" style="left:578.3px;top:195.7px;width:112.5px;height:17.4px;line-height:17.4px;">效率高达99%油分离器</div>
<div class="lbl" style="left:578.3px;top:280px;width:92.7px;height:18px;">室外机之间油平衡</div>
<div class="lbl" style="left:613.8px;top:490.7px;width:104px;height:17.8px;line-height:17.8px;">智能程序控制油平衡</div>
<div class="lbl" style="left:403.8px;top:513.8px;width:134.6px;height:18.5px;line-height:18.5px;">同一室外机压缩机间油平衡</div>
<div class="lbl" style="left:177.6px;top:462.3px;width:65px;height:31.2px;line-height:14px;padding-top:1.5px;box-sizing:border-box;border-radius:3px;white-space:normal;">压缩机内部<br>油雾分离</div>
<div class="pl" style="left:347.8px;top:255.2px;width:45.9px;height:16px;">二级油分</div>
<div class="pl" style="left:521.2px;top:255.6px;width:46px;height:15px;line-height:15px;">四级油分</div>
<div class="pl" style="left:543px;top:473.6px;width:46px;height:16.1px;">三级油分</div>
<div class="pl" style="left:644.9px;top:463.4px;width:51.9px;height:16.8px;line-height:16.8px;font-size:12px;">五级油分</div>
<div class="pl" style="left:187.1px;top:438.7px;width:46.6px;height:15.5px;line-height:15.5px;">一级油分</div>

<!-- bottom box -->
<div class="a" style="left:44.65px;top:622.6px;width:781.85px;height:252.6px;border:1.8px solid #5b88c3;border-radius:12px;"></div>


<!-- bottom box content -->
<div class="a" style="left:66.3px;top:694.7px;width:2.3px;height:20px;background:#1d9ee0;"></div>
<div class="a" style="left:70.5px;top:694.7px;width:67.6px;height:20px;background:#1d9ee0;border-radius:0 2px 2px 0;"></div>
<div class="a sy" style="left:76.5px;top:698.5px;color:#fff;font-size:13px;line-height:13px;">技术实现</div>
<svg width="869" height="905">
<circle cx="72" cy="731" r="3.6" fill="none" stroke="#7cc3e8" stroke-width="1.8"/>
<circle cx="72" cy="748" r="3.6" fill="none" stroke="#7cc3e8" stroke-width="1.8"/>
<circle cx="72" cy="780.5" r="3.6" fill="none" stroke="#7cc3e8" stroke-width="1.8"/>
<rect x="193" y="759.8" width="9" height="1.6" fill="#2a9ee0"/>
<path d="M190.5 763 H205 L197.75 768.4Z" fill="#2a9ee0"/>
<use href="#comp" x="365" y="645" width="90" height="190"/>
<use href="#comp" x="479" y="645" width="90" height="190"/>
<use href="#comp" x="617" y="645" width="90" height="190"/>
<use href="#comp" x="731" y="648" width="90" height="190"/>
<use href="#band" x="365" y="645" width="90" height="190"/><use href="#band" x="479" y="645" width="90" height="190"/><use href="#band" x="617" y="645" width="90" height="190"/><use href="#band" x="731" y="645" width="90" height="190"/>




<path d="M310 649.3 Q310 647.3 312 647.3 H344.7 L357.2 658.1 L344.7 669 H312 Q310 669 310 667Z" fill="#1ea0e0"/>
<linearGradient id="sepg" x1="0" x2="0" y1="0" y2="1"><stop offset="0" stop-color="#e4e4e4" stop-opacity="0"/><stop offset=".15" stop-color="#e4e4e4"/><stop offset=".8" stop-color="#e4e4e4"/><stop offset="1" stop-color="#e4e4e4" stop-opacity="0"/></linearGradient><rect x="594.8" y="640" width="1.6" height="215" fill="url(#sepg)"/>
</svg>
<div class="a sy" style="left:82.5px;top:725px;font-size:12.5px;line-height:13px;color:#4a4a4a;letter-spacing:.3px;">压缩机构成<span style="margin-left:-5px;margin-right:0px">：</span></div><div class="a sy" style="left:167px;top:725px;font-size:12.5px;line-height:13px;color:#1d9ee0;-webkit-text-stroke:.25px #1d9ee0;letter-spacing:.5px;">“变频+变频”</div>
<div class="a sy" style="left:82.5px;top:742px;font-size:12.5px;line-height:13px;color:#4a4a4a;letter-spacing:.4px;">均油<span style="margin-left:-5px;margin-right:3px">：</span><span style="color:#1d9ee0;-webkit-text-stroke:.15px #1d9ee0">与负荷无关<span style="margin-left:-4px;margin-right:1px">，</span>所有压缩机均相同</span></div>
<div class="a sy" style="left:82.5px;top:774.5px;font-size:12.5px;line-height:13px;color:#4a4a4a;letter-spacing:.4px;">均油<span style="margin-left:-5px;margin-right:3px">：</span><span style="color:#1d9ee0;-webkit-text-stroke:.15px #1d9ee0">无需均油运行<span style="margin-left:-4px;margin-right:1px">，</span>保障制热/制冷性能</span></div>
<div class="a" style="left:316px;top:651.5px;color:#fff;font-size:12.5px;line-height:12.5px;">美的</div>
<div class="a" style="left:395.3px;top:778.5px;color:#fff;font-size:17px;line-height:17px;-webkit-text-stroke:.2px #fff;">变频</div>
<div class="a" style="left:509.5px;top:778.5px;color:#fff;font-size:17px;line-height:17px;-webkit-text-stroke:.2px #fff;">变频</div>
<div class="a" style="left:646px;top:778.5px;color:#fff;font-size:17px;line-height:17px;-webkit-text-stroke:.2px #fff;">变频</div>
<div class="a" style="left:760.5px;top:778.5px;color:#fff;font-size:17px;line-height:17px;-webkit-text-stroke:.2px #fff;">变频</div>
<div class="a sy" style="left:419.5px;top:846.5px;color:#2a9ad8;font-size:19.3px;line-height:19px;transform:scaleY(.92);-webkit-text-stroke:.15px #2a9ad8;">高负荷运行</div>
<div class="a sy" style="left:676px;top:846px;color:#2a9ad8;font-size:19.3px;line-height:19px;transform:scaleY(.92);-webkit-text-stroke:.15px #2a9ad8;">低负荷运行</div>

</body></html>
